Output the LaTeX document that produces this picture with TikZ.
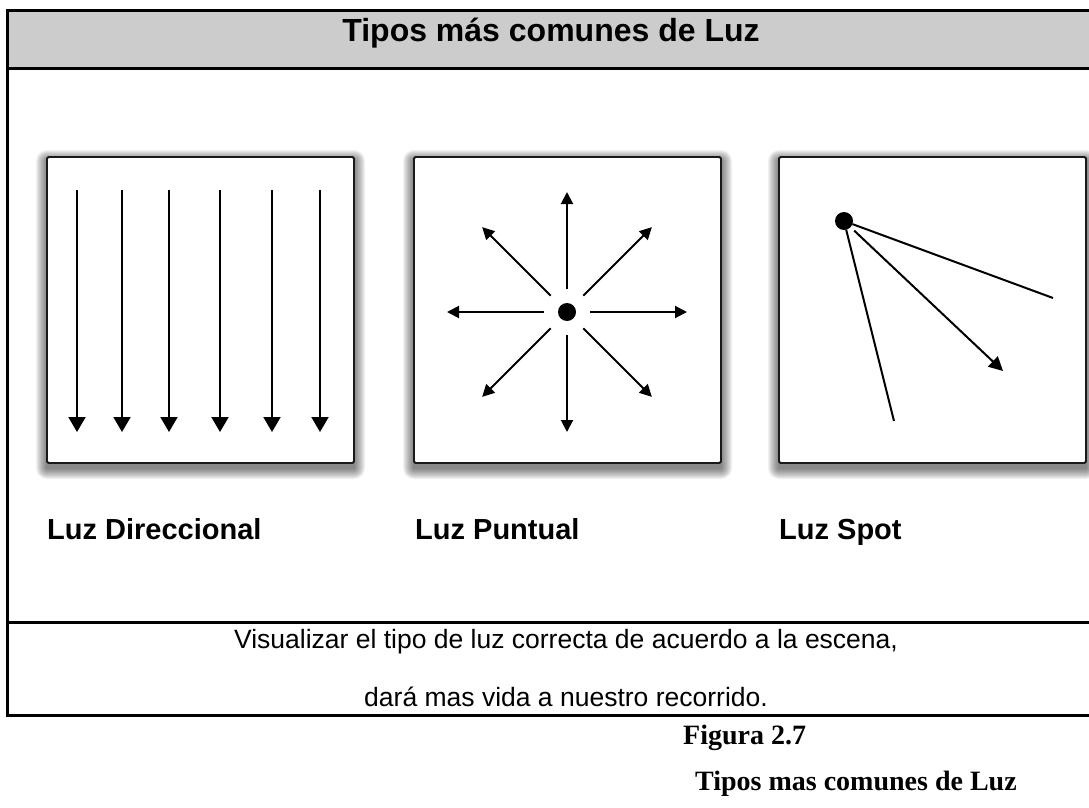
\documentclass[tikz,border=0pt]{standalone}
\usepackage{fontspec}
\newfontfamily\hsans{Liberation Sans}
\newfontfamily\hserif{Liberation Serif}
\usetikzlibrary{arrows.meta,calc}
\definecolor{hdrgray}{RGB}{204,204,204}
\begin{document}
\begin{tikzpicture}[x=1pt,y=-1pt,
  frameline/.style={line width=3pt},
  lbox/.style={draw=black!90,line width=1.8pt,fill=white,rounded corners=1.5pt,minimum width=307pt,minimum height=306pt,inner sep=0pt,outer sep=0pt},
  darrow/.style={line width=2pt,-{Triangle[length=15pt,width=17pt]}},
  parrow/.style={line width=2pt,-{Triangle[length=12pt,width=12pt]}},
  sarrow/.style={line width=2pt,-{Triangle[length=14pt,width=14pt]}},
  sline/.style={line width=2pt},
  dot/.style={circle,fill=black,inner sep=0pt,outer sep=0pt,minimum size=18pt},
  titletext/.style={font=\hsans\bfseries\fontsize{32}{38}\selectfont,inner sep=0pt,anchor=base},
  lbltext/.style={font=\hsans\bfseries\fontsize{29}{34}\selectfont,inner sep=0pt,anchor=base west},
  bodytext/.style={font=\hsans\fontsize{26.5}{32}\selectfont,inner sep=0pt,anchor=base},
  captext/.style={font=\hserif\bfseries\fontsize{28}{33}\selectfont,inner sep=0pt,anchor=base west}
]
\useasboundingbox (0,0) rectangle (1089,808);
% header band
\fill[hdrgray] (7,11) rectangle (1100,69);
% frame
\draw[frameline] (1100,11) -- (7,11) -- (7,715) -- (1100,715);
\draw[frameline] (7,69) -- (1100,69);
\draw[frameline] (7,622) -- (1100,622);
% shadows
\foreach \bx in {47,414,779}{
  \foreach \i in {1,...,11}{
    \fill[black,opacity=0.055,rounded corners=\i pt] (\bx-\i,157-\i+4) rectangle (\bx+307+\i,463+\i+5);
  }
}
% boxes
\node[lbox] (b1) at (200.5,310) {};
\node[lbox] (b2) at (567.5,310) {};
\node[lbox] (b3) at (932.5,310) {};
% directional light
\foreach \x [count=\k] in {77,122,169,220,272,320}{
  \coordinate (da\k) at (\x,190);
  \coordinate (db\k) at (\x,432);
  \draw[darrow] (da\k) -- (db\k);
}
% point light
\node[dot] (pc) at (567,312) {};
\foreach \a in {0,45,...,315}{
  \coordinate (pa\a) at ($(pc.center)+(\a:23)$);
  \coordinate (pb\a) at ($(pc.center)+(\a:120)$);
  \draw[parrow] (pa\a) -- (pb\a);
}
% spot light
\node[dot] (sp) at (844,221) {};
\coordinate (su) at (1053,298);
\coordinate (sl) at (894,421);
\coordinate (sa) at (1003,371);
\coordinate (ss) at ($(sp.center)!14pt!(sa)$);
\draw[sline] (sp) -- (su);
\draw[sline] (sp) -- (sl);
\draw[sarrow] (ss) -- (sa);
% texts
\node[titletext] (title) at (551,42) {Tipos más comunes de Luz};
\node[lbltext] (l1) at (47,539) {Luz Direccional};
\node[lbltext] (l2) at (415,539) {Luz Puntual};
\node[lbltext] (l3) at (779,539) {Luz Spot};
\node[bodytext] (v1) at (566,648) {Visualizar el tipo de luz correcta de acuerdo a la escena,};
\node[bodytext] (v2) at (566,706) {dará mas vida a nuestro recorrido.};
\node[captext] (f1) at (683,744) {Figura 2.7};
\node[captext] (f2) at (695,790) {Tipos mas comunes de Luz};
\end{tikzpicture}
\end{document}
